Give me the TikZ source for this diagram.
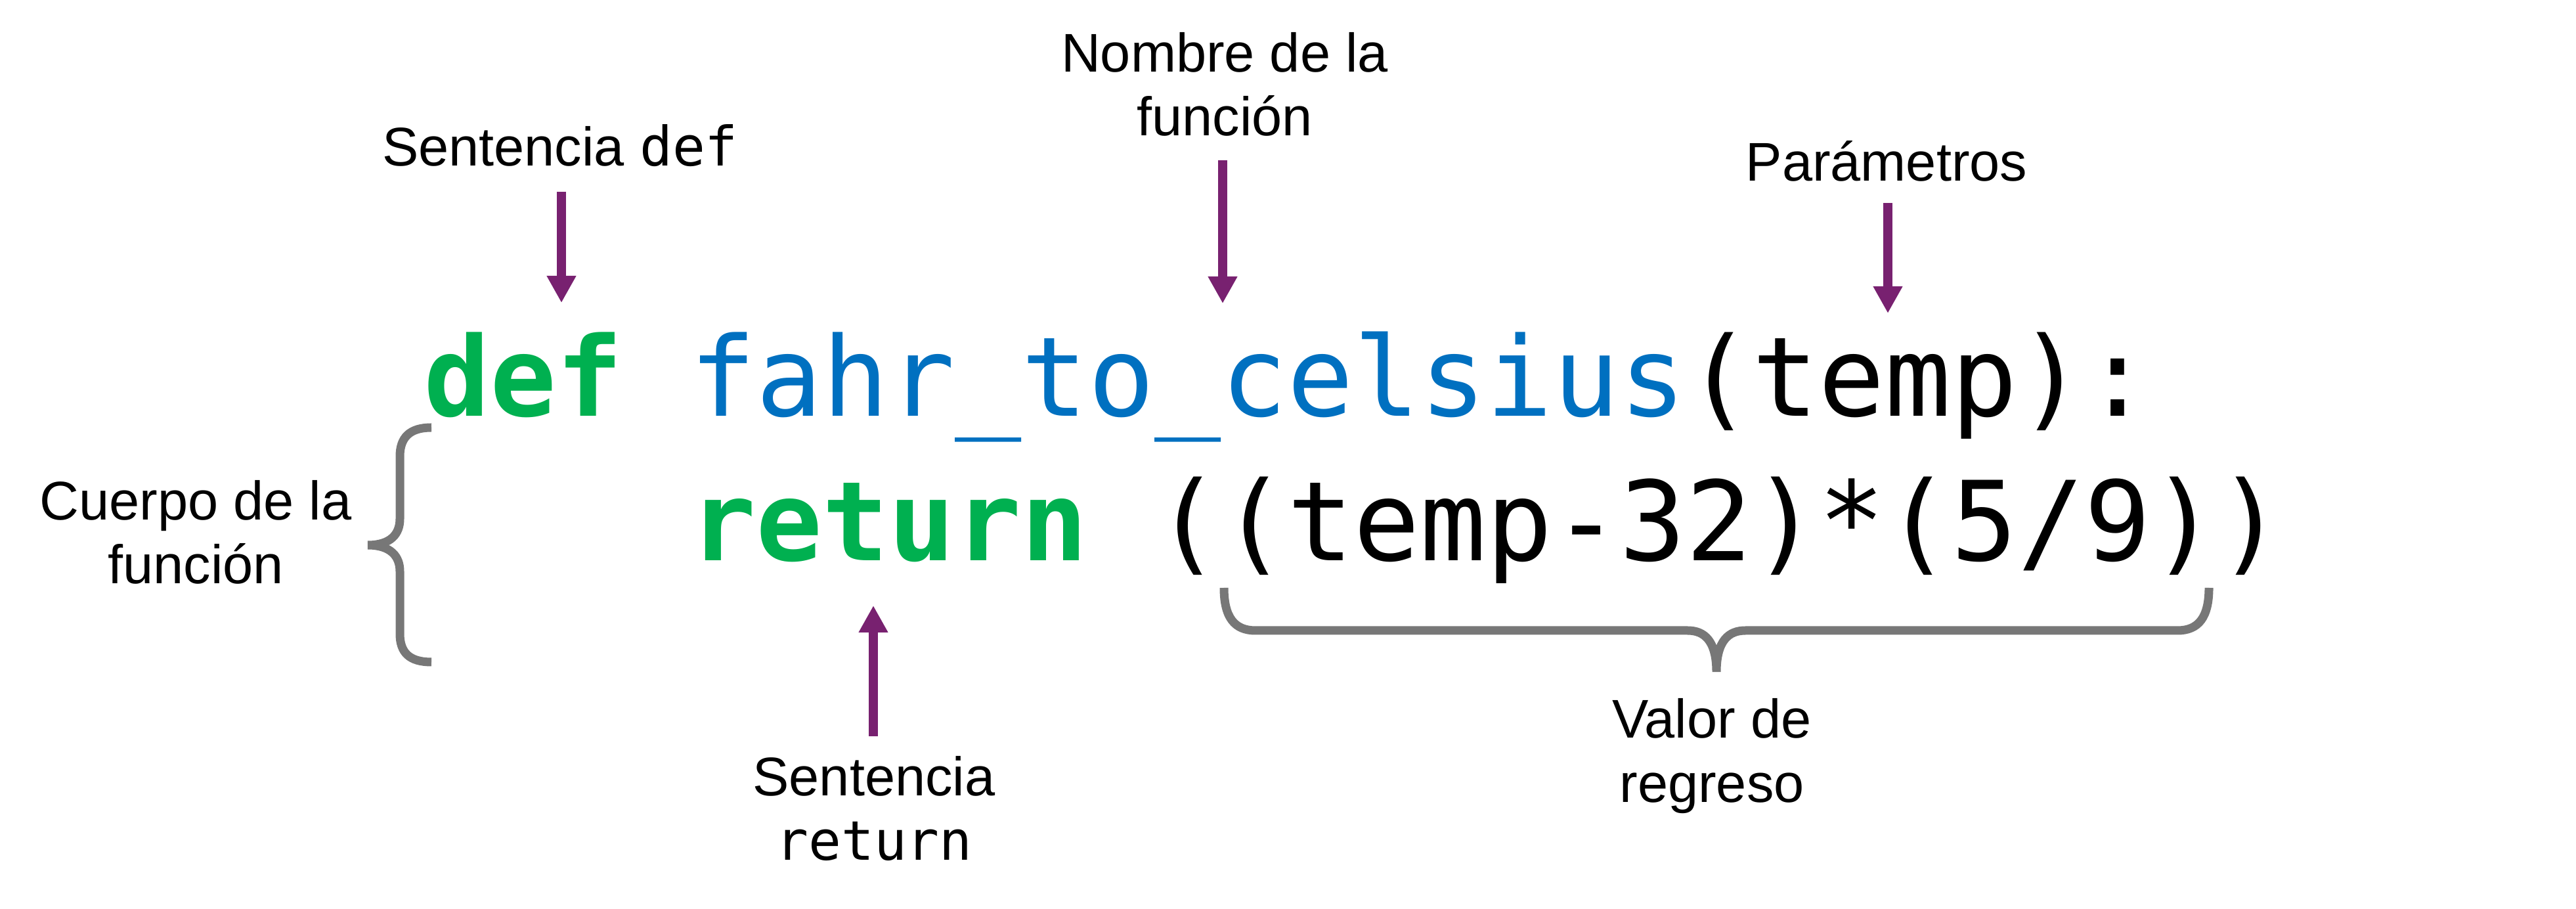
\documentclass[tikz,border=0pt]{standalone}
\usepackage{fontspec}
\setmainfont{Liberation Sans}
\setmonofont{DejaVu Sans Mono}
\usetikzlibrary{arrows.meta}
\definecolor{kwG}{HTML}{00B050}
\definecolor{fnB}{HTML}{0070C0}
\definecolor{ptrP}{HTML}{782170}
\definecolor{braceG}{HTML}{777777}
\newcommand{\codesize}{\fontsize{47.8}{57}\selectfont}
\newcommand{\lblsize}{\fontsize{23.6}{27.6}\selectfont}

\tikzset{
  lbl/.style={font=\lblsize, align=center, inner sep=0pt, anchor=base},
  code/.style={font=\ttfamily\codesize, anchor=base west, inner sep=0pt},
  kw/.style={code, text=kwG, font=\ttfamily\bfseries\codesize},
  ptr/.style={ptrP, line width=3.8pt, -{Triangle[length=4.1mm, width=4.2mm]}},
  curly/.style={braceG, line width=3.7pt},
}

\begin{document}
\begin{tikzpicture}[x=1cm, y=1cm]
  \path[use as bounding box] (0,0) rectangle (39.23,-13.84);
  \def\cw{1.0114}

  % code, one node per token on the monospace column grid
  \node[kw] (kwDef) at (6.45,-6.34) {def};
  \node[code, text=fnB] (fnName) at (6.45+4*\cw,-6.34) {fahr\_to\_celsius};
  \node[code] (argList) at (6.45+19*\cw,-6.34) {(temp):};
  \node[kw] (kwReturn) at (6.45+4*\cw,-8.54) {return};
  \node[code] (retExpr) at (6.45+11*\cw,-8.54) {((temp-32)*(5/9))};

  % labels (base = baseline of the last line)
  \node[lbl] (lblDef) at (8.53,-2.53) {Sentencia \texttt{def}};
  \node[lbl] (lblName) at (18.65,-2.07) {Nombre de la\\función};
  \node[lbl] (lblParam) at (28.73,-2.76) {Parámetros};
  \node[lbl] (lblBody) at (2.98,-8.89) {Cuerpo de la\\función};
  \node[lbl] (lblReturn) at (13.31,-13.09) {Sentencia\\\texttt{return}};
  \node[lbl] (lblValue) at (26.07,-12.21) {Valor de\\regreso};

  % pointers hang from the label centres
  \draw[ptr] ([shift={(0.02,-0.39)}]lblDef.base) -- ([shift={(0.02,-2.08)}]lblDef.base);
  \draw[ptr] ([shift={(-0.03,-0.37)}]lblName.base) -- ([shift={(-0.03,-2.55)}]lblName.base);
  \draw[ptr] ([shift={(0.02,-0.33)}]lblParam.base) -- ([shift={(0.02,-2.01)}]lblParam.base);
  \draw[ptr] ([shift={(-0.01,1.88)}]lblReturn.base) -- ([shift={(-0.01,3.87)}]lblReturn.base);

  % body brace (left) and return value brace (below)
  \draw[curly] (6.57,-6.51) .. controls (6.24,-6.51) and (6.09,-6.66) .. (6.09,-6.95)
    -- (6.09,-7.90) .. controls (6.09,-8.13) and (5.95,-8.30) .. (5.60,-8.30)
    .. controls (5.95,-8.30) and (6.09,-8.47) .. (6.09,-8.70)
    -- (6.09,-9.65) .. controls (6.09,-9.94) and (6.24,-10.08) .. (6.57,-10.08);
  \draw[curly] (18.64,-8.95) .. controls (18.64,-9.40) and (18.80,-9.60) .. (19.12,-9.60)
    -- (25.70,-9.60) .. controls (25.95,-9.60) and (26.14,-9.75) .. (26.14,-10.23)
    .. controls (26.14,-9.75) and (26.33,-9.60) .. (26.58,-9.60)
    -- (33.16,-9.60) .. controls (33.48,-9.60) and (33.64,-9.40) .. (33.64,-8.95);
\end{tikzpicture}
\end{document}
